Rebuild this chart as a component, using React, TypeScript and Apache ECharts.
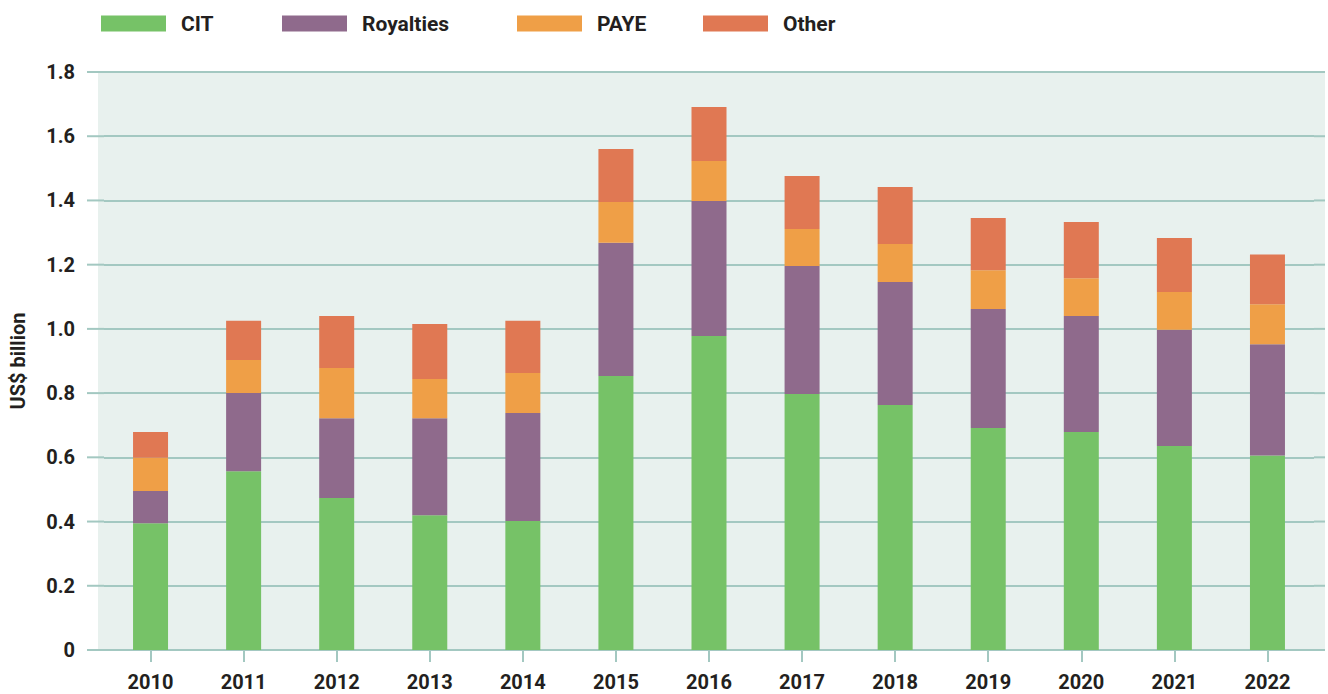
import React, { useEffect, useRef } from "react";
import * as echarts from "echarts";

const years = ["2010", "2011", "2012", "2013", "2014", "2015", "2016", "2017", "2018", "2019", "2020", "2021", "2022"];
const cit = [0.395, 0.557, 0.473, 0.42, 0.402, 0.853, 0.978, 0.797, 0.763, 0.691, 0.679, 0.635, 0.606];
const royalties = [0.1, 0.243, 0.249, 0.302, 0.336, 0.415, 0.42, 0.399, 0.383, 0.371, 0.361, 0.362, 0.346];
const paye = [0.104, 0.103, 0.156, 0.122, 0.125, 0.127, 0.125, 0.115, 0.118, 0.121, 0.118, 0.118, 0.125];
const other = [0.08, 0.122, 0.162, 0.171, 0.162, 0.165, 0.168, 0.165, 0.178, 0.162, 0.175, 0.168, 0.155];
const yTicks = [0, 0.2, 0.4, 0.6, 0.8, 1.0, 1.2, 1.4, 1.6, 1.8];

const seriesNames = ["CIT", "Royalties", "PAYE", "Other"];
const seriesColors = ["#76c267", "#8f6a8c", "#ef9f47", "#e07853"];
const seriesData = [cit, royalties, paye, other];
const legendLefts = [101, 282, 517, 703];

const FONT = "Roboto";
const TEXT = "#231f20";
const GRID_COLOR = "#a3c8c1";
const BG = "#e8f1ee";

export default function App() {
  const ref = useRef<HTMLDivElement>(null);

  useEffect(() => {
    document.body.style.margin = "0";
    const chart = echarts.init(ref.current!, null, { renderer: "svg" });
    const gridLeft = 104;
    const gridRight = 14;
    const option: any = {
      animation: false,
      textStyle: { fontFamily: FONT },
      legend: seriesNames.map((n, i) => ({
        data: [n],
        left: legendLefts[i],
        top: 13,
        padding: 0,
        itemWidth: 65,
        itemHeight: 16,
        icon: "rect",
        selectedMode: false,
        textStyle: {
          fontFamily: FONT,
          fontWeight: "bold",
          fontSize: 21,
          color: TEXT,
          padding: [0, 0, 0, 10],
        },
      })),
      grid: { left: gridLeft, right: gridRight, top: 72, bottom: 44 },
      xAxis: {
        type: "category",
        data: years,
        axisLine: { show: true, lineStyle: { color: GRID_COLOR, width: 2 } },
        axisTick: { show: true, alignWithLabel: true, length: 12, lineStyle: { color: GRID_COLOR, width: 2 } },
        axisLabel: { color: TEXT, fontFamily: FONT, fontWeight: "bold", fontSize: 20, margin: 22 },
      },
      yAxis: {
        type: "value",
        min: 0,
        max: 1.8,
        interval: 0.2,
        name: "US$ billion",
        nameLocation: "middle",
        nameGap: 76,
        nameTextStyle: { color: TEXT, fontFamily: FONT, fontWeight: "bold", fontSize: 20 },
        axisLine: { show: false },
        axisTick: { show: false },
        axisLabel: {
          color: TEXT,
          fontFamily: FONT,
          fontWeight: "bold",
          fontSize: 20,
          margin: 29,
          formatter: (v: number) => (v === 0 ? "0" : v.toFixed(1)),
        },
        splitLine: { show: true, lineStyle: { color: GRID_COLOR, width: 2 } },
      },
      series: seriesNames.map((n, i) => ({
        name: n,
        type: "bar",
        stack: "total",
        barWidth: 35,
        itemStyle: { color: seriesColors[i] },
        data: seriesData[i],
      })),
    };
    chart.setOption(option);

    const leftExt = 87;
    const bgLeft = 98;
    const rightEnd = 1325;
    const plotRight = 1328 - gridRight;
    const yTop = chart.convertToPixel({ yAxisIndex: 0 }, yTicks[yTicks.length - 1]) as number;
    const yBottom = chart.convertToPixel({ yAxisIndex: 0 }, yTicks[0]) as number;
    const graphics: any[] = [
      {
        type: "rect",
        z: -100,
        silent: true,
        shape: { x: bgLeft, y: yTop, width: rightEnd - bgLeft, height: yBottom - yTop },
        style: { fill: BG },
      },
    ];
    yTicks.forEach((t) => {
      const y = chart.convertToPixel({ yAxisIndex: 0 }, t) as number;
      graphics.push({
        type: "line",
        z: -50,
        silent: true,
        shape: { x1: leftExt, y1: y, x2: gridLeft, y2: y },
        style: { stroke: GRID_COLOR, lineWidth: 2 },
      });
      graphics.push({
        type: "line",
        z: -50,
        silent: true,
        shape: { x1: plotRight, y1: y, x2: rightEnd, y2: y },
        style: { stroke: GRID_COLOR, lineWidth: 2 },
      });
    });
    chart.setOption({ graphic: graphics });

    return () => chart.dispose();
  }, []);

  return <div ref={ref} style={{ width: 1328, height: 694 }} />;
}
